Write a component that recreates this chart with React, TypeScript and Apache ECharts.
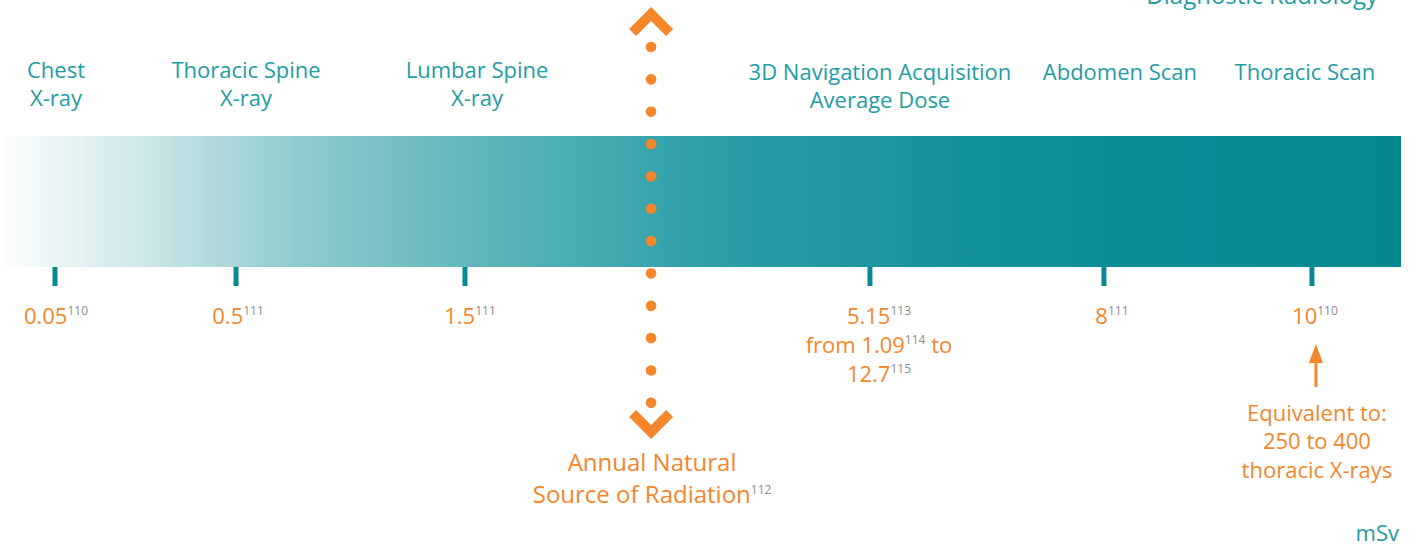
import React, { useEffect, useRef } from 'react';
import * as echarts from 'echarts';

// ---- data ----
const procedures: string[][] = [
  ['Chest', 'X-ray'],
  ['Thoracic Spine', 'X-ray'],
  ['Lumbar Spine', 'X-ray'],
  ['3D Navigation Acquisition', 'Average Dose'],
  ['Abdomen Scan'],
  ['Thoracic Scan'],
];
const doseLabels = ['0.05', '0.5', '1.5', '5.15', '8', '10']; // mSv
const doseRefs = ['110', '111', '111', '113', '111', '110'];
// place of each dose on the illustrative (not to scale) dose scale, in % of the bar
const scalePositions = [3.58, 16.55, 32.95, 61.96, 78.72, 93.62];
const navRange = { from: '1.09', fromRef: '114', to: '12.7', toRef: '115' };
const naturalLines = ['Annual Natural', 'Source of Radiation'];
const naturalRef = '112';
const naturalPosition = 46.28;
const equivalentLines = ['Equivalent to:', '250 to 400', 'thoracic X-rays'];
const headerText = 'Diagnostic Radiology';
const unitText = 'mSv';

// ---- style ----
const FONT = '"Open Sans", "Noto Sans", sans-serif';
const TEAL_TEXT = '#1f9ca6';
const TEAL_TICK = '#078a94';
const ORANGE = '#f4862b';
const SUP = '#8c8c8c';
const TOP_SHIFT = [1, 10, 12, 10, 16, -7];
const BOTTOM_SHIFT = [1, 2, 5, 9, 8, 3];

const supRich = (main: number, mainLH: number, lift: number) => ({
  v: { fontFamily: FONT, fontSize: main, fill: ORANGE, lineHeight: mainLH },
  s: { fontFamily: FONT, fontSize: 12, fill: SUP, padding: [0, 0, lift * 2, 0] },
});

export default function App() {
  const ref = useRef<HTMLDivElement>(null);
  useEffect(() => {
    document.body.style.margin = '0';
    const chart = echarts.init(ref.current!, null, { renderer: 'svg' });
    const option: any = {
      animation: false,
      grid: { left: 5, right: 14, top: 136, bottom: 280, containLabel: false },
      xAxis: { type: 'value', min: 0, max: 100, show: false },
      yAxis: { type: 'value', min: 0, max: 1, show: false },
      graphic: [
        {
          type: 'text', x: 1378, y: -6,
          style: { text: headerText, fontFamily: FONT, fontSize: 24, fill: TEAL_TEXT, align: 'right', verticalAlign: 'middle' },
        },
        {
          type: 'text', x: 1399, y: 532,
          style: { text: unitText, fontFamily: FONT, fontSize: 22, fill: TEAL_TEXT, align: 'right', verticalAlign: 'middle' },
        },
      ],
      series: [
        {
          type: 'custom', clip: false, z: 1,
          data: [[0, 100]],
          renderItem: (params: any, api: any) => {
            const p0 = api.coord([api.value(0), 1]);
            const p1 = api.coord([api.value(1), 0]);
            return {
              type: 'rect',
              shape: { x: p0[0], y: p0[1], width: p1[0] - p0[0], height: p1[1] - p0[1] },
              style: {
                fill: new echarts.graphic.LinearGradient(0, 0, 1, 0, [
                  { offset: 0, color: '#fbfdfd' },
                  { offset: 0.1, color: '#cde7e9' },
                  { offset: 0.21, color: '#8ecbce' },
                  { offset: 0.33, color: '#62b7bd' },
                  { offset: 0.5, color: '#2d9fa7' },
                  { offset: 0.7, color: '#13919a' },
                  { offset: 0.85, color: '#088b94' },
                  { offset: 1, color: '#05888f' },
                ]),
              },
            };
          },
        },
        {
          type: 'custom', clip: false, z: 2,
          data: scalePositions.map((p, i) => [p, i]),
          renderItem: (params: any, api: any) => {
            const i = api.value(1);
            const [x, yBottom] = api.coord([api.value(0), 0]);
            const yTop = api.coord([api.value(0), 1])[1];
            let bottomText = `{v|${doseLabels[i]}}{s|${doseRefs[i]}}`;
            if (i === 3) {
              bottomText += `\n{v|from ${navRange.from}}{s|${navRange.fromRef}}{v| to}\n{v|${navRange.to}}{s|${navRange.toRef}}`;
            }
            const topY = i < 3 ? yTop - 81 : yTop - 79;
            const children: any[] = [
              { type: 'rect', shape: { x: x - 2.5, y: yBottom, width: 5, height: 19 }, style: { fill: TEAL_TICK } },
              {
                type: 'text', x: x + TOP_SHIFT[i], y: topY,
                style: {
                  text: procedures[i].join('\n'), fontFamily: FONT, fontSize: 22, fill: TEAL_TEXT,
                  lineHeight: 28, align: 'center', verticalAlign: 'top',
                },
              },
              {
                type: 'text', x: x + BOTTOM_SHIFT[i], y: yBottom + 33,
                style: { text: bottomText, rich: supRich(22, 29, 4.5), align: 'center', verticalAlign: 'top' },
              },
            ];
            if (i === doseLabels.length - 1) {
              const ax = x + 4;
              children.push(
                { type: 'polygon', shape: { points: [[ax, yBottom + 77], [ax + 7, yBottom + 96], [ax - 7, yBottom + 96]] }, style: { fill: ORANGE } },
                { type: 'rect', shape: { x: ax - 1.5, y: yBottom + 94, width: 3, height: 26 }, style: { fill: ORANGE } },
                {
                  type: 'text', x: ax + 1, y: yBottom + 130.5,
                  style: {
                    text: equivalentLines.join('\n'), fontFamily: FONT, fontSize: 22, fill: ORANGE,
                    lineHeight: 28.5, align: 'center', verticalAlign: 'top',
                  },
                },
              );
            }
            return { type: 'group', children };
          },
        },
        {
          type: 'custom', clip: false, z: 3,
          data: [[naturalPosition]],
          renderItem: (params: any, api: any) => {
            const [x] = api.coord([api.value(0), 0]);
            const yTop = api.coord([api.value(0), 1])[1];
            const children: any[] = [];
            for (let k = 0; k < 12; k++) {
              children.push({ type: 'circle', shape: { cx: x, cy: yTop - 89 + k * 32.35, r: 5.3 }, style: { fill: ORANGE } });
            }
            const t = yTop - 129; // top chevron apex
            children.push({
              type: 'polygon',
              shape: { points: [[x, t], [x + 22, t + 22], [x + 15, t + 29], [x, t + 14], [x - 15, t + 29], [x - 22, t + 22]] },
              style: { fill: ORANGE },
            });
            const b = yTop + 303; // bottom chevron apex
            children.push({
              type: 'polygon',
              shape: { points: [[x, b], [x + 22, b - 22], [x + 15, b - 29], [x, b - 14], [x - 15, b - 29], [x - 22, b - 22]] },
              style: { fill: ORANGE },
            });
            children.push({
              type: 'text', x: x + 1, y: yTop + 309,
              style: {
                text: `{v|${naturalLines[0]}}\n{v|${naturalLines[1]}}{s|${naturalRef}}`,
                rich: supRich(24, 32, 3.5), align: 'center', verticalAlign: 'top',
              },
            });
            return { type: 'group', children };
          },
        },
      ],
    };
    chart.setOption(option);
    return () => chart.dispose();
  }, []);
  return <div ref={ref} style={{ width: 1415, height: 547 }} />;
}
